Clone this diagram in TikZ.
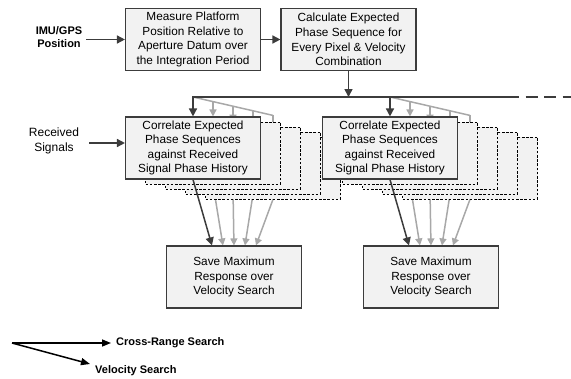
\documentclass[tikz,border=0pt]{standalone}
\usepackage{fontspec}
\setmainfont{Liberation Sans}
\usetikzlibrary{arrows.meta,calc,positioning}
\definecolor{Ink}{HTML}{3C3C3C}
\definecolor{Fan}{HTML}{A8A8A8}
\definecolor{Panel}{HTML}{F2F2F2}
\pgfdeclarelayer{background}
\pgfsetlayers{background,main}
\tikzset{
  procbox/.style={draw=Ink,fill=Panel,line width=1.1pt,inner sep=0pt,align=center,
    minimum width=135pt,minimum height=62pt,font=\fontsize{11.8}{14.6}\selectfont},
  ghostbox/.style={procbox,draw=black,line width=0.7pt,dash pattern=on 2.6pt off 1.6pt},
  flow/.style={draw=Ink,line width=1.5pt,-{Triangle[length=8pt,width=8pt]}},
  fanline/.style={draw=Fan,line width=1.5pt},
  fanarrow/.style={fanline,-{Triangle[length=7pt,width=7pt]}},
  keyarrow/.style={draw=black,line width=1.5pt,-{Triangle[length=9pt,width=7pt]}},
  sidelabel/.style={align=center,inner sep=0pt,font=\fontsize{12}{14.6}\selectfont},
  keylabel/.style={anchor=west,inner sep=0pt,font=\bfseries\fontsize{11}{13}\selectfont},
}
\begin{document}
\begin{tikzpicture}[x=1pt,y=-1pt]
  \useasboundingbox (0,0) rectangle (571,378);

  \node[procbox] (measure) at (193,39.5) {Measure Platform\\Position Relative to\\Aperture Datum over\\the Integration Period};
  \node[procbox] (expect) at (348.5,39.5) {Calculate Expected\\Phase Sequence for\\Every Pixel \& Velocity\\Combination};
  \node[sidelabel,font=\bfseries\fontsize{11}{12.5}\selectfont] (imu) at (59,37) {IMU/GPS\\Position};
  \node[sidelabel] (rx) at (54,141) {Received\\Signals};

  % two correlator stacks, copies first so the front box sits on top
  \foreach \s/\x in {1/193,2/390} {
    \foreach \k in {4,...,1}
      \node[ghostbox] (corr\s-\k) at (\x+20*\k,148+5*\k) {};
    \node[procbox] (corr\s-0) at (\x,148) {Correlate Expected\\Phase Sequences\\against Received\\Signal Phase History};
    \node[procbox] (save\s) at (\x+41,277) {Save Maximum\\Response over\\Velocity Search};
  }

  \coordinate (busend) at (507,97);
  \coordinate (busfar) at (571,97);

  \begin{pgfonlayer}{background}
    \foreach \s in {1,2} {
      \draw[fanline] (corr\s-0.north |- busend) -- ($(corr\s-4.north |- busend)+(0,18.4)$);
      \foreach \k [evaluate=\k as \j using int(\k-1)] in {1,...,4} {
        \draw[fanarrow] ($(corr\s-\k.north |- busend)+(0,4.6*\k)$) -- (corr\s-\k.north |- corr\s-\j.north);
        \draw[fanarrow] (corr\s-\k.south) -- ($(save\s.north west)+(46+11*\k,0)$);
      }
    }
  \end{pgfonlayer}

  \draw[flow] ([xshift=4pt]imu.east |- measure) -- (measure);
  \draw[flow] (measure) -- (expect);
  \draw[flow] (expect.south) -- (expect.south |- busend);
  \draw[flow] ([shift={(10pt,-2pt)}]rx.east) -- ([yshift=-2pt]rx.east -| corr1-0.west);
  \draw[flow] (busend) -| (corr1-0.north);
  \draw[flow] (corr2-0.north |- busend) -- (corr2-0.north);
  \draw[Ink,line width=1.5pt,dash pattern=on 12pt off 6.5pt] (busend) -- (busfar);
  \foreach \s in {1,2}
    \draw[flow] (corr\s-0.south) -- ($(save\s.north west)+(46,0)$);

  % legend
  \coordinate (keyorigin) at (12,343);
  \coordinate (velotip) at (90,364);
  \node[keylabel] (crossrange) at (116,343) {Cross-Range Search};
  \node[keylabel] (velocity) at (95,371) {Velocity Search};
  \draw[keyarrow] (keyorigin) -- ([xshift=-5pt]crossrange.west);
  \draw[keyarrow] (keyorigin) -- (velotip);
\end{tikzpicture}
\end{document}
